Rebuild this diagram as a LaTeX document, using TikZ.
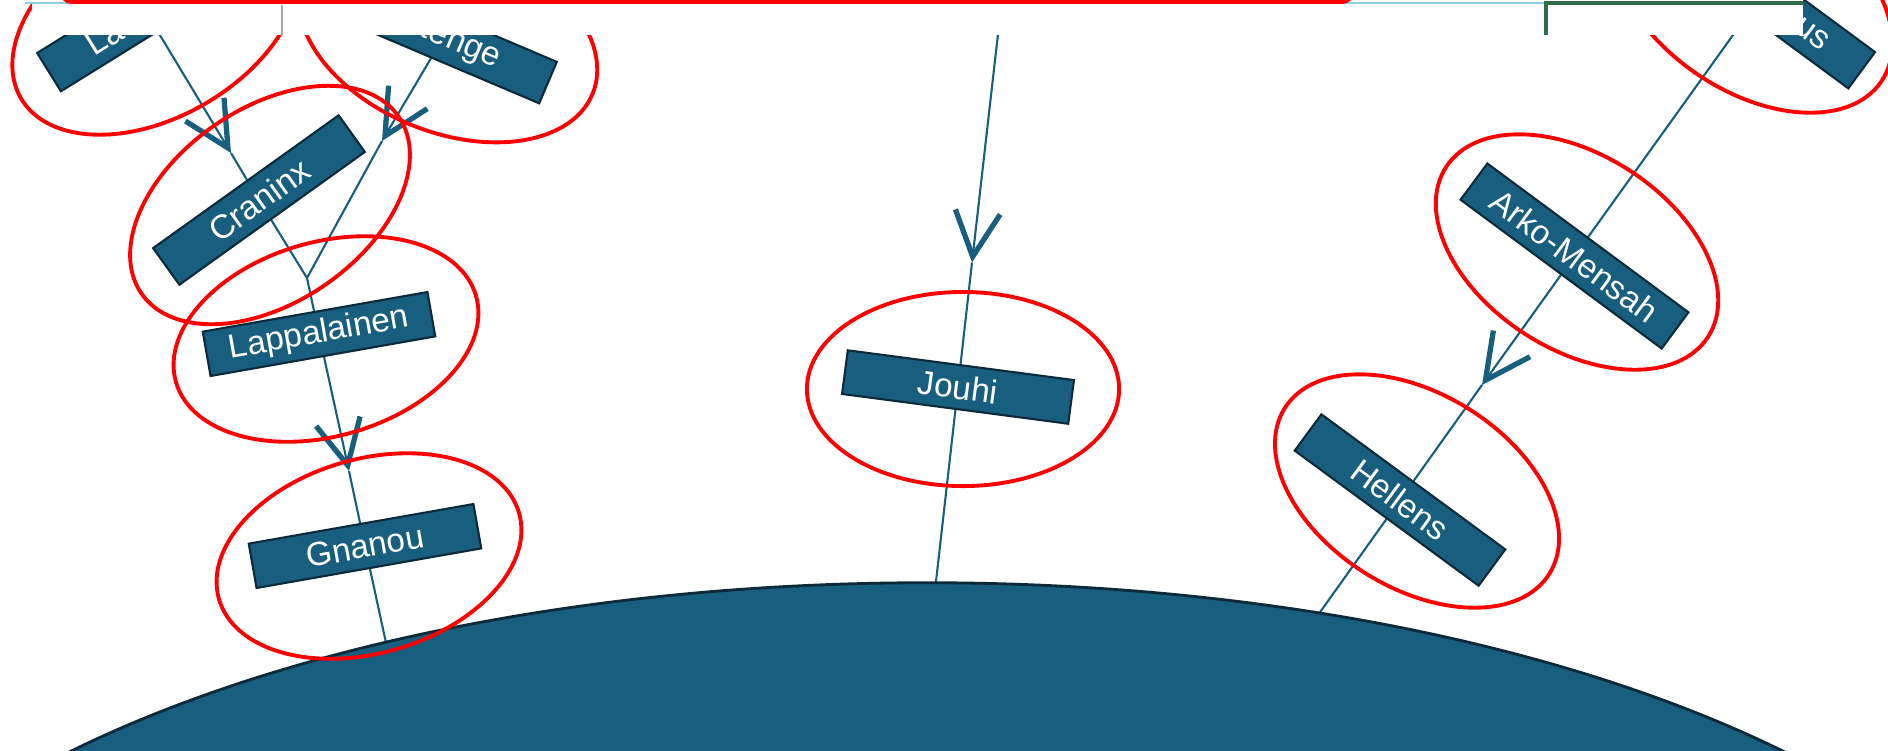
\documentclass[tikz,border=0pt]{standalone}
\usepackage{fontspec}
\setmainfont{Liberation Sans}
\usetikzlibrary{shapes.geometric, arrows.meta, backgrounds}
\definecolor{azulCaja}{HTML}{175E7F}
\definecolor{bordeCaja}{HTML}{0C2A3A}
\definecolor{rojoMarca}{HTML}{FF0000}
\definecolor{celeste}{HTML}{8FCBEA}
\definecolor{verdeLinea}{HTML}{2E6E48}
\definecolor{grisLinea}{HTML}{A6A6A6}
\tikzset{
	caja/.style={rectangle, minimum width=2.28cm, minimum height=0.45cm, inner sep=0pt, draw=bordeCaja, line width=0.6pt, fill=azulCaja, text=white, font=\fontsize{9.5}{11}\selectfont},
	marca/.style={ellipse, minimum width=3.12cm, minimum height=1.94cm, inner sep=0pt, draw=rojoMarca, line width=1.1pt},
	linea/.style={draw=azulCaja, line width=0.6pt},
	flecha/.style={linea, -{Straight Barb[length=4.5mm, width=4.5mm, line width=1.5pt]}}
}

\begin{document}
\begin{tikzpicture}[x=0.01cm, y=-0.01cm]
	\useasboundingbox (0,0) rectangle (1888,750);
	\clip (0,0) rectangle (1888,750);

	% Cajas de nombres
	\node (la) [caja, rotate=31.8, text width=1.34cm, align=left] at (146,12) {La};
	\node (tenge) [caja, rotate=-23, text width=1.2cm, align=right] at (443,38) {tenge};
	\node (us) [caja, minimum width=2.5cm, rotate=-36.4, text width=1.62cm, align=right] at (1761,-4) {us};
	\node (craninx) [caja, rotate=35.6] at (259,200) {Craninx};
	\node (lapp) [caja, rotate=10] at (319,334) {Lappalainen};
	\node (gnanou) [caja, rotate=10] at (365,546) {Gnanou};
	\node (jouhi) [caja, rotate=-7.5, minimum height=0.44cm] at (958,387) {Jouhi};
	\node (arko) [caja, minimum width=2.5cm, rotate=-36.5] at (1574.5,256) {Arko-Mensah};
	\node (hellens) [caja, rotate=-36.3] at (1400,500) {Hellens};

	% Puntas de flecha y extremos libres
	\coordinate (puntaC) at (231,153);
	\coordinate (puntaL) at (382,141);
	\coordinate (union) at (307,278);
	\coordinate (puntaG) at (349,471);
	\coordinate (baseG) at (388,652);
	\coordinate (arribaJ) at (1003,-10);
	\coordinate (puntaJ) at (972,262.5);
	\coordinate (baseJ) at (934.8,592);
	\coordinate (puntaH) at (1482,385);
	\coordinate (baseH) at (1313,622);

	% Conectores (detras de las cajas)
	\begin{scope}[on background layer]
		\draw [flecha] (la.center) -- (puntaC);
		\draw [linea] (puntaC) -- (craninx.center) -- (union);
		\draw [flecha] (tenge.center) -- (puntaL);
		\draw [linea] (puntaL) -- (union);
		\draw [flecha] (union) -- (lapp.center) -- (puntaG);
		\draw [linea] (puntaG) -- (gnanou.center) -- (baseG);
		\draw [flecha] (arribaJ) -- (puntaJ);
		\draw [linea] (puntaJ) -- (jouhi.center) -- (baseJ);
		\draw [linea] (us.center) -- (arko.center);
		\draw [flecha] (arko.center) -- (puntaH);
		\draw [linea] (puntaH) -- (hellens.center) -- (baseH);
	\end{scope}

	% Cupula
	\fill [azulCaja, draw=bordeCaja, line width=0.8pt] (927,1085) ellipse [x radius=11.45cm, y radius=5.02cm];

	% Marcas rojas
	\node (ringLa) [marca, rotate=30] at (156,20) {};
	\node (ringTenge) [marca, rotate=-22] at (448,35) {};
	\node (ringCran) [marca, rotate=34.5] at (270,205) {};
	\node (ringLapp) [marca, rotate=16] at (326,339) {};
	\node (ringGnan) [marca, rotate=16] at (369,556) {};
	\node (ringJouhi) [marca] at (963,389) {};
	\node (ringArko) [marca, rotate=-33] at (1577,252) {};
	\node (ringHell) [marca, rotate=-32] at (1417,491) {};
	\node (ringUs) [marca, rotate=-34] at (1752,-6) {};

	% Franja superior (borde de la captura)
	\fill [white] (32,-2) rectangle (1803,35);
	\draw [celeste, line width=0.6pt] (25,3.3) -- (1546,3.3);
	\draw [rojoMarca, line width=1.4pt, rounded corners=0.1cm] (62,-25) -- (62,1.5) -- (1352,1.5) -- (1352,-25);
	\draw [grisLinea, line width=0.6pt] (282,5) -- (282,35);
	\draw [verdeLinea, line width=0.9pt] (1546,35) -- (1546,3) -- (1803,3);
\end{tikzpicture}
\end{document}
